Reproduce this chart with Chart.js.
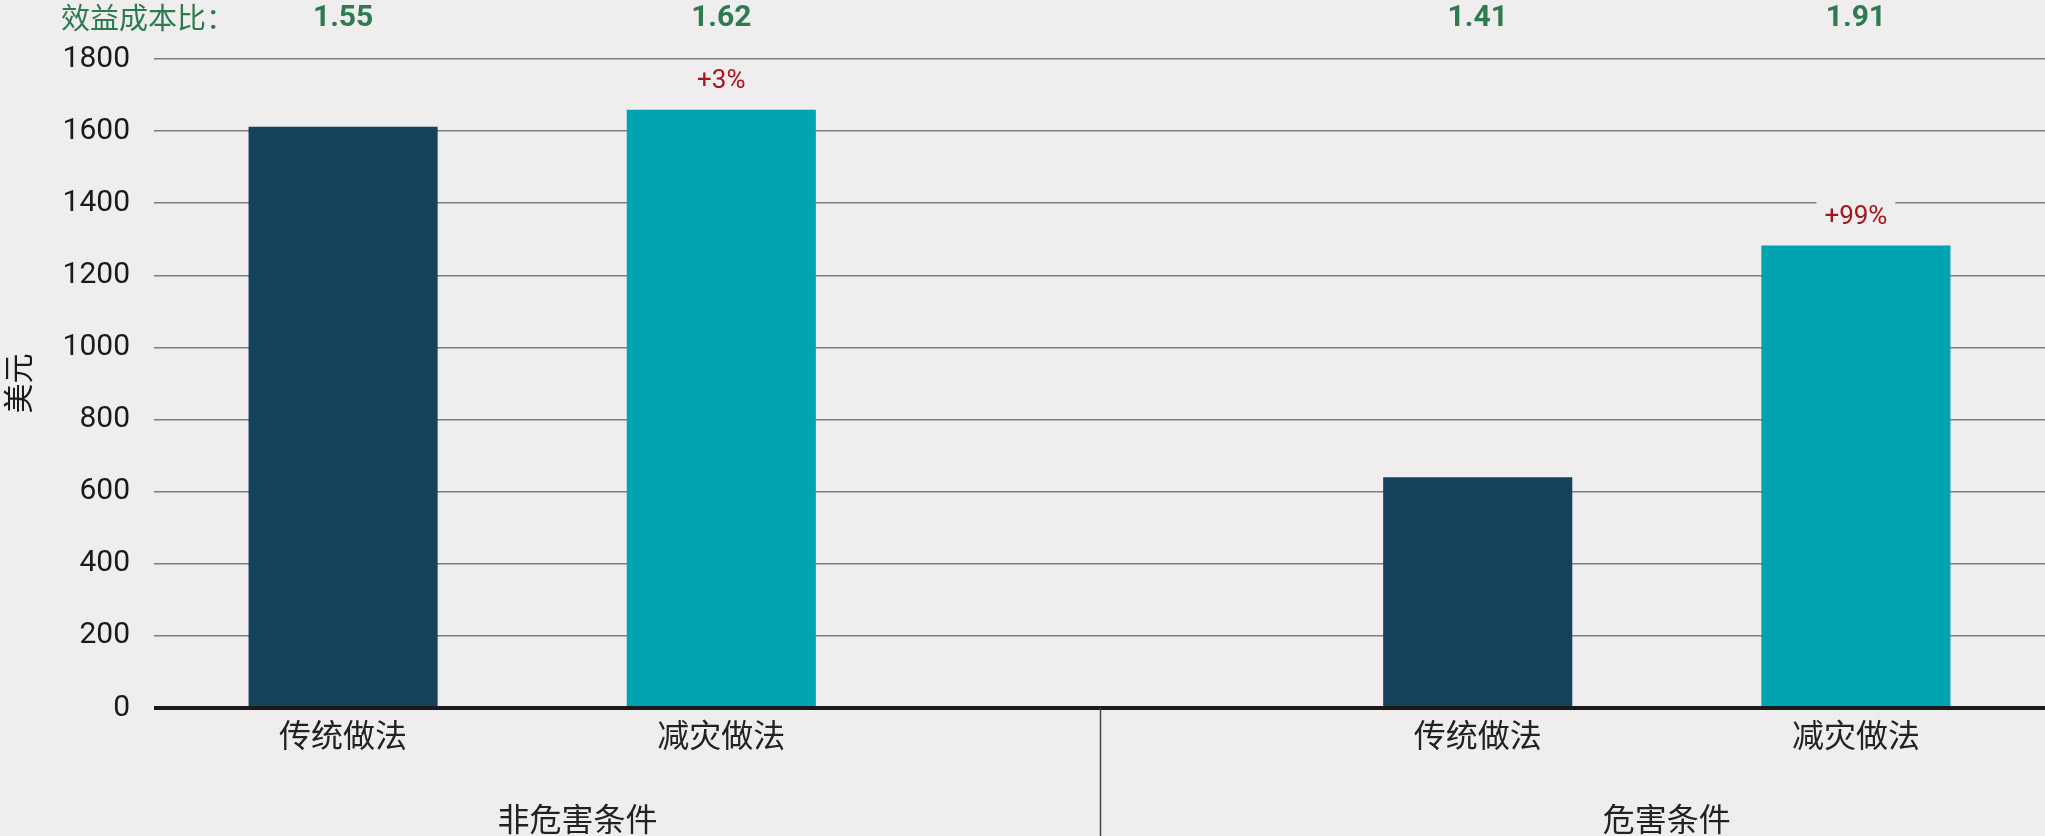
<!DOCTYPE html>
<html>
<head>
<meta charset="utf-8">
<script src="https://cdn.jsdelivr.net/npm/chart.js@4.4.1/dist/chart.umd.min.js"></script>
<style>
  html, body { margin: 0; padding: 0; background: #efedee; }
  #chart { display: block; }
</style>
</head>
<body>
<canvas id="chart" width="2045" height="836"></canvas>
<script>
// categories (the empty middle slot is the gap between the two groups)
const categories = ["传统做法", "减灾做法", "", "传统做法", "减灾做法"];
const costValues = [1612, 1659, null, 640, 1283];
const barColors = ["#17425c", "#00a4b1", "#17425c", "#17425c", "#00a4b1"];
const ratioLabels = ["1.55", "1.62", "", "1.41", "1.91"];
const changeLabels = ["", "+3%", "", "", "+99%"];
const groupLabels = ["非危害条件", "危害条件"];
const groupCenters = [0.62, 3.5]; // category index where each group label sits
const yTicks = [0, 200, 400, 600, 800, 1000, 1200, 1400, 1600, 1800];

const bg = "#efedee";
const numFont = "Roboto, 'Liberation Sans', sans-serif";
const cjkFont = "'Noto Sans CJK SC', 'Noto Sans', sans-serif";

// extra texts: ratios on top, % change above bars, separator + group names
const extrasPlugin = {
  id: "extras",
  afterDraw(chart) {
    const ctx = chart.ctx;
    const x = chart.scales.x;
    const y = chart.scales.y;
    const area = chart.chartArea;
    ctx.save();

    // 效益成本比 row
    ctx.fillStyle = "#2e7b50";
    ctx.textBaseline = "middle";
    ctx.textAlign = "left";
    ctx.font = "29px " + cjkFont;
    ctx.fillText("效益成本比：", 61, 18);
    ctx.textAlign = "center";
    ctx.font = "bold 30px " + numFont;
    ratioLabels.forEach((t, i) => {
      if (t) ctx.fillText(t, x.getPixelForValue(i), 18);
    });

    // % change above the mitigation bars
    ctx.font = "26px " + numFont;
    changeLabels.forEach((t, i) => {
      if (!t) return;
      const px = x.getPixelForValue(i);
      const py = y.getPixelForValue(costValues[i]) - 28;
      const w = ctx.measureText(t).width + 16;
      ctx.fillStyle = bg;
      ctx.fillRect(px - w / 2, py - 17, w, 34);
      ctx.fillStyle = "#a3161c";
      ctx.fillText(t, px, py);
    });

    // separator between the groups
    const sx = Math.round(x.getPixelForValue(2)) + 0.5;
    ctx.strokeStyle = "#444";
    ctx.lineWidth = 1.5;
    ctx.beginPath();
    ctx.moveTo(sx, area.bottom);
    ctx.lineTo(sx, chart.height);
    ctx.stroke();

    // group names
    ctx.fillStyle = "#222";
    ctx.font = "32px " + cjkFont;
    groupLabels.forEach((t, i) => {
      ctx.fillText(t, x.getPixelForValue(groupCenters[i]), 819);
    });
    ctx.restore();
  }
};

new Chart(document.getElementById("chart"), {
  type: "bar",
  data: {
    labels: categories,
    datasets: [
      {
        data: costValues,
        backgroundColor: barColors,
        borderWidth: 0,
        barPercentage: 0.5,
        categoryPercentage: 1,
      },
    ],
  },
  options: {
    responsive: false,
    animation: false,
    layout: { padding: { top: 59, right: 0, bottom: 0, left: 0 } },
    plugins: {
      legend: { display: false },
      tooltip: { enabled: false },
    },
    scales: {
      x: {
        grid: { display: false },
        border: { display: false },
        ticks: {
          color: "#222",
          font: { family: cjkFont, size: 32 },
          padding: 0,
          maxRotation: 0,
        },
        afterFit(scale) {
          scale.height = 128;
        },
      },
      y: {
        min: 0,
        max: 1800,
        afterBuildTicks(scale) {
          scale.ticks = yTicks.map((v) => ({ value: v }));
        },
        grid: {
          drawTicks: false,
          color: (c) => (c.tick && c.tick.value === 0 ? "#1a1a1a" : "#7d7d7d"),
          lineWidth: (c) => (c.tick && c.tick.value === 0 ? 4 : 1.5),
        },
        border: { display: false },
        ticks: {
          color: "#1a1a1a",
          font: { family: numFont, size: 30 },
          padding: 24,
          callback: (v) => String(v),
        },
        title: {
          display: true,
          text: "美元",
          color: "#1a1a1a",
          font: { family: cjkFont, size: 30 },
          padding: 0,
        },
        afterFit(scale) {
          scale.width = 154;
        },
      },
    },
  },
  plugins: [extrasPlugin],
});
</script>
</body>
</html>
